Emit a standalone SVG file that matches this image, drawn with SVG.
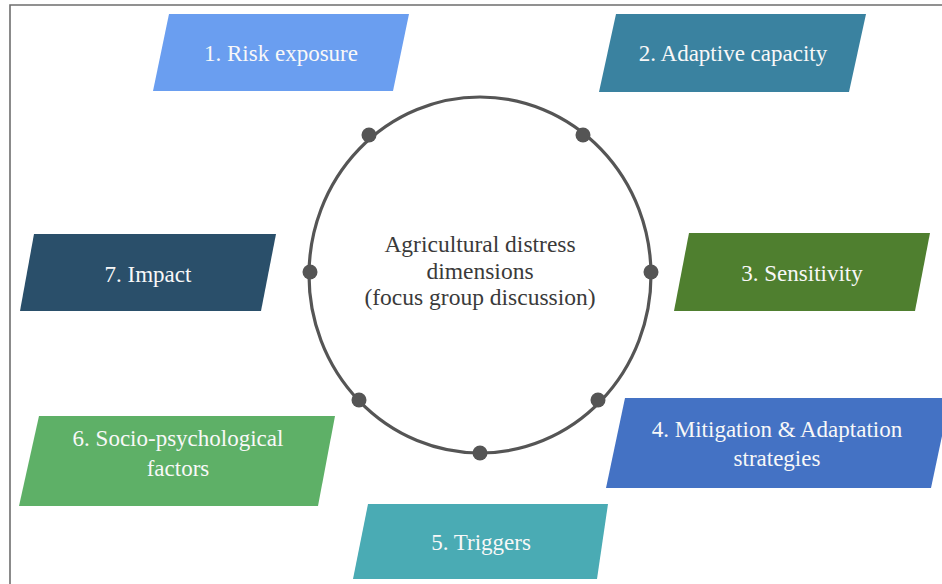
<svg xmlns="http://www.w3.org/2000/svg" width="942" height="584" viewBox="0 0 942 584">
  <style>
    .lbl { font-family: "Liberation Serif", "Times New Roman", serif; font-size: 23px; fill: #f8f8f8; text-anchor: middle; }
    .ctr { font-family: "Liberation Serif", "Times New Roman", serif; font-size: 23.5px; fill: #3a3a3a; text-anchor: middle; }
    .dot { fill: #555555; }
  </style>
  <rect x="0" y="0" width="942" height="584" fill="#ffffff"/>
  <path d="M10,584 V5 H942" fill="none" stroke="#6e6e6e" stroke-width="1.6"/>

  <g id="connectors">
    <ellipse cx="480" cy="275" rx="171" ry="178" fill="none" stroke="#555555" stroke-width="3.2"/>
    <circle class="dot" cx="369" cy="135" r="7.5"/>
    <circle class="dot" cx="583" cy="135" r="7.5"/>
    <circle class="dot" cx="310" cy="272" r="7.5"/>
    <circle class="dot" cx="651" cy="272" r="7.5"/>
    <circle class="dot" cx="359" cy="400" r="7.5"/>
    <circle class="dot" cx="598" cy="400" r="7.5"/>
    <circle class="dot" cx="480" cy="453" r="7.5"/>
  </g>

  <g id="center">
    <text class="ctr" x="480" y="252">Agricultural distress</text>
    <text class="ctr" x="480" y="279">dimensions</text>
    <text class="ctr" x="480" y="305">(focus group discussion)</text>
  </g>

  <g id="n1">
    <polygon points="169,14 409,14 393,91 153,91" fill="#6a9ef0"/>
    <text class="lbl" x="281" y="61">1. Risk exposure</text>
  </g>
  <g id="n2">
    <polygon points="616,14 866,14 849,92 599,92" fill="#3a82a0"/>
    <text class="lbl" x="733" y="61">2. Adaptive capacity</text>
  </g>
  <g id="n3">
    <polygon points="689,233 930,233 915,311 674,311" fill="#4f7f2f"/>
    <text class="lbl" x="802" y="281">3. Sensitivity</text>
  </g>
  <g id="n4">
    <polygon points="625,398 950,398 931,488 606,488" fill="#4472c4"/>
    <text class="lbl" x="777" y="437">4. Mitigation &amp; Adaptation</text>
    <text class="lbl" x="777" y="466">strategies</text>
  </g>
  <g id="n5">
    <polygon points="368,504 608,504 597,579 353,579" fill="#4aabb4"/>
    <text class="lbl" x="481" y="550">5. Triggers</text>
  </g>
  <g id="n6">
    <polygon points="39,416 335,416 318,506 19,506" fill="#5eb067"/>
    <text class="lbl" x="178" y="446">6. Socio-psychological</text>
    <text class="lbl" x="178" y="476">factors</text>
  </g>
  <g id="n7">
    <polygon points="34,234 276,234 261,311 20,311" fill="#2a4f6a"/>
    <text class="lbl" x="148" y="282">7. Impact</text>
  </g>
</svg>
